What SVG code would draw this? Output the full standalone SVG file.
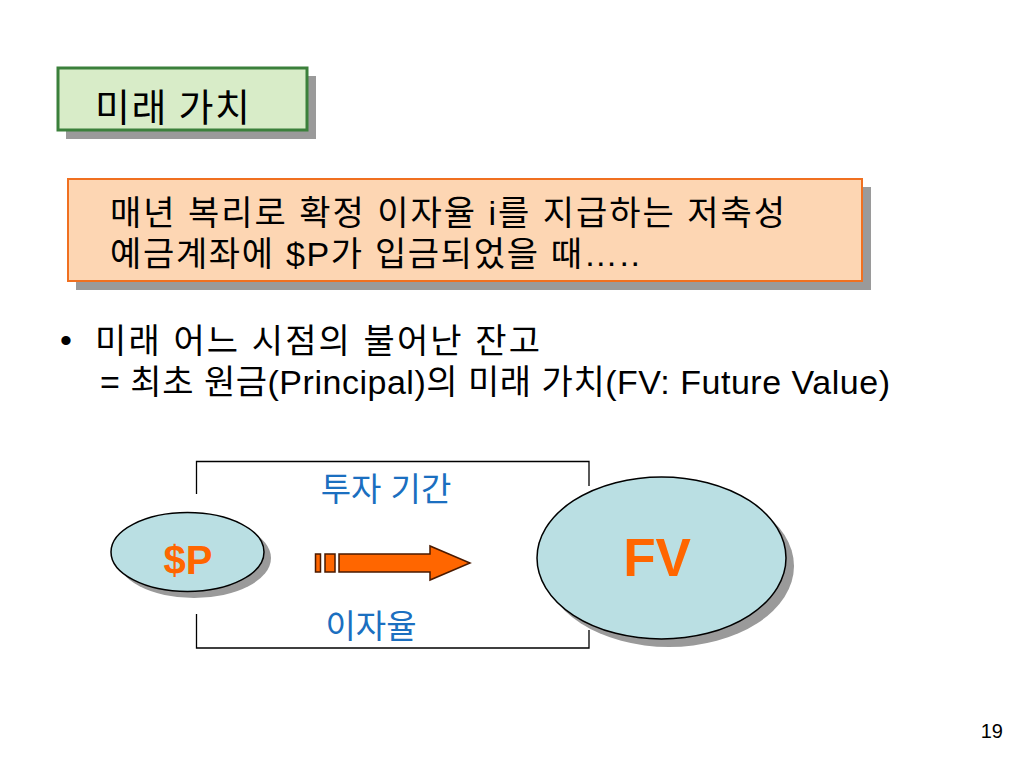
<svg xmlns="http://www.w3.org/2000/svg" width="1024" height="768" viewBox="0 0 1024 768">
<defs>
<style>
.shadow{fill:#9a9a9a;stroke:none}
.body{font-family:"Liberation Sans","Noto Sans CJK KR",sans-serif;font-size:34px;fill:#000}
.blue{font-family:"Liberation Sans","Noto Sans CJK KR",sans-serif;font-size:33px;fill:#1b6fc0}
.ell{fill:#badfe3;stroke:#000;stroke-width:1.5}
.big{font-family:"Liberation Sans",Arial,sans-serif;font-weight:bold;fill:#ff6600;text-anchor:middle}
.bracket{fill:none;stroke:#000;stroke-width:1.3}
.arr{fill:#ff6600;stroke:#4a1a00;stroke-width:1.5}
</style>
</defs>
<rect width="1024" height="768" fill="#ffffff"/>

<g id="title">
<rect class="shadow" x="66" y="76" width="250" height="63"/>
<rect x="58" y="68" width="249" height="62" fill="#d8ecc8" stroke="#3b803b" stroke-width="3"/>
<text x="95" y="121" font-family="Noto Sans CJK KR, sans-serif" font-size="38" textLength="155" lengthAdjust="spacing" fill="#000">미래 가치</text>
</g>

<g id="condition">
<rect class="shadow" x="76" y="187" width="795" height="103"/>
<rect x="68" y="179" width="794" height="102" fill="#fdd6b3" stroke="#f07020" stroke-width="2"/>
<text class="body" x="110" y="225" textLength="675" lengthAdjust="spacing">매년 복리로 확정 이자율 i를 지급하는 저축성</text>
<text class="body" x="110" y="266" textLength="530" lengthAdjust="spacing">예금계좌에 $P가 입금되었을 때…..</text>
</g>

<g id="bullet">
<text class="body" x="60" y="352">•</text>
<text class="body" x="95" y="353" textLength="445" lengthAdjust="spacing">미래 어느 시점의 불어난 잔고</text>
<text class="body" x="100" y="394" textLength="790" lengthAdjust="spacing">= 최초 원금(Principal)의 미래 가치(FV: Future Value)</text>
</g>

<g id="connectors">
<polyline class="bracket" points="196.5,494 196.5,461.5 589,461.5 589,486"/>
<polyline class="bracket" points="196.5,614 196.5,648 589,648 589,630"/>
<rect class="arr" x="315.5" y="554" width="5" height="18"/>
<rect class="arr" x="325" y="554" width="10" height="18"/>
<polygon class="arr" points="339,554 430,554 430,546 470,563 430,580 430,572 339,572"/>
</g>

<g id="labels">
<text class="blue" x="386" y="501" text-anchor="middle">투자 기간</text>
<text class="blue" x="371" y="638" text-anchor="middle">이자율</text>
</g>

<g id="node-p">
<ellipse class="shadow" cx="194" cy="558" rx="77" ry="40"/>
<ellipse class="ell" cx="187.5" cy="552" rx="76.5" ry="39.5"/>
<text class="big" x="188" y="574" font-size="40">$P</text>
</g>

<g id="node-fv">
<ellipse class="shadow" cx="669" cy="566" rx="125" ry="81"/>
<ellipse class="ell" cx="661.5" cy="558" rx="124.5" ry="81"/>
<text class="big" x="657" y="576" font-size="53">FV</text>
</g>

<text x="1003" y="738" font-family="Liberation Sans, Arial, sans-serif" font-size="20" text-anchor="end" fill="#000">19</text>
</svg>
